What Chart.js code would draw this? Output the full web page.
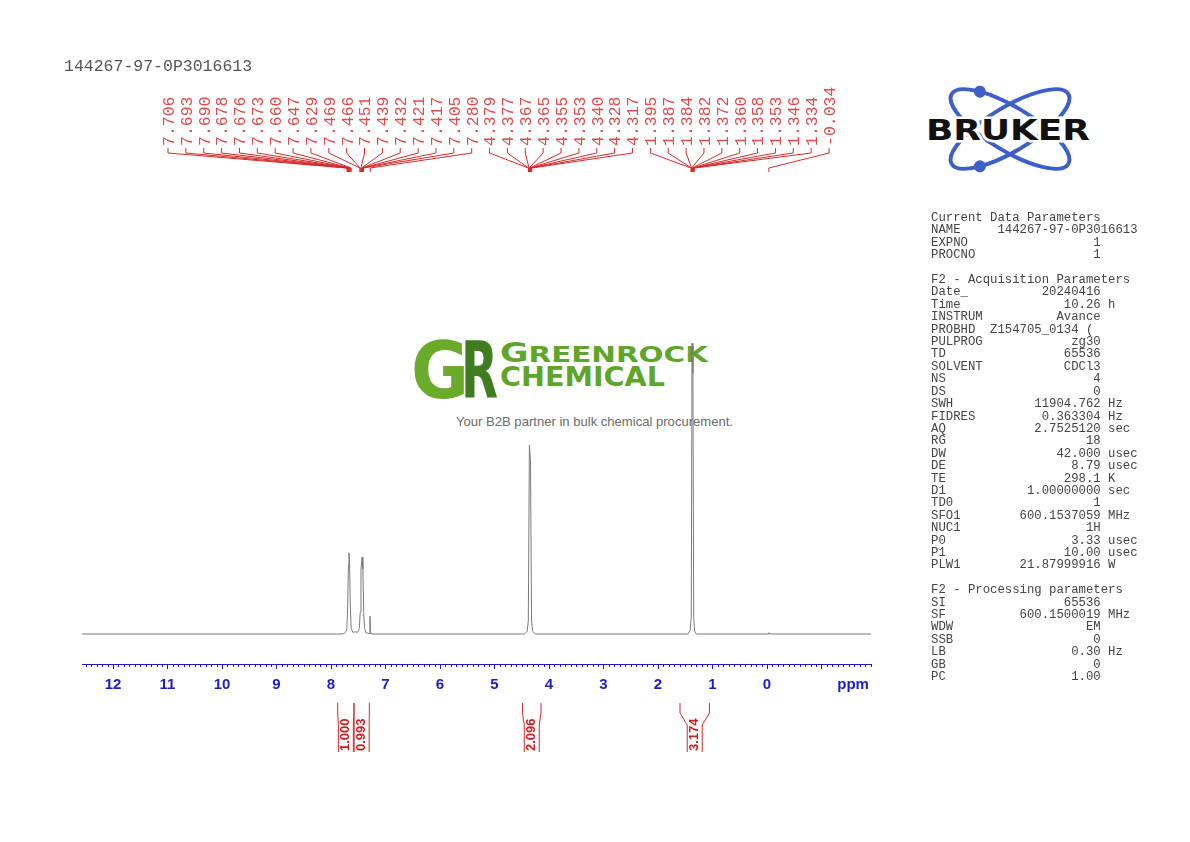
<!DOCTYPE html>
<html>
<head>
<meta charset="utf-8">
<script src="https://cdn.jsdelivr.net/npm/chart.js@4.4.1/dist/chart.umd.min.js"></script>
<style>
  html, body { margin: 0; padding: 0; background: #fff; }
  #page { position: relative; width: 1190px; height: 842px; overflow: hidden; }
  #deco { position: absolute; left: 0; top: 0; z-index: 0; }
  #grafico { position: absolute; left: 0; top: 0; z-index: 1; }
  #titulo { position: absolute; left: 64px; top: 57px; font: 16.5px "Liberation Mono", monospace; color: #555; z-index: 2; }
  #params { position: absolute; left: 931px; top: 212px; margin: 0; font: 12.3px/12.4px "Liberation Mono", monospace; color: #444; z-index: 2; }
</style>
</head>
<body>
<div id="page">
  <svg id="deco" width="1190" height="842" xmlns="http://www.w3.org/2000/svg">
    <!-- marca de agua -->
    <text x="411" y="398" font-family="DejaVu Sans" font-weight="bold" font-size="78" fill="#6aab2c" textLength="58" lengthAdjust="spacingAndGlyphs">G</text>
    <text x="461" y="398" font-family="DejaVu Sans" font-weight="bold" font-size="78" fill="#3f7d1f" textLength="37" lengthAdjust="spacingAndGlyphs">R</text>
    <text x="500" y="362" font-family="DejaVu Sans" font-weight="bold" fill="#5ea52a" textLength="208" lengthAdjust="spacingAndGlyphs"><tspan font-size="26">G</tspan><tspan font-size="22">REENROCK</tspan></text>
    <text x="500" y="386" font-family="DejaVu Sans" font-weight="bold" font-size="26" fill="#5ea52a" textLength="165" lengthAdjust="spacingAndGlyphs">CHEMICAL</text>
    <text x="456" y="426" font-family="Liberation Sans" font-size="13" fill="#6a6a6a" textLength="277" lengthAdjust="spacingAndGlyphs">Your B2B partner in bulk chemical procurement.</text>
    <!-- logo Bruker -->
    <g transform="translate(1010,129)">
      <g transform="rotate(31)">
        <ellipse cx="0" cy="0" rx="68" ry="22" fill="none" stroke="#3f5fc8" stroke-width="4"/>
        <circle cx="-45" cy="-16.5" r="6" fill="#3f5fc8"/>
      </g>
      <g transform="rotate(-31)">
        <ellipse cx="0" cy="0" rx="68" ry="22" fill="none" stroke="#3f5fc8" stroke-width="4"/>
        <circle cx="-45" cy="16.5" r="6" fill="#3f5fc8"/>
      </g>
    </g>
    <text x="926" y="140" font-family="DejaVu Sans" font-weight="bold" font-size="29" fill="#111" stroke="#fff" stroke-width="5" paint-order="stroke" textLength="164" lengthAdjust="spacingAndGlyphs">BRUKER</text>
  </svg>
  <canvas id="grafico" width="1190" height="842"></canvas>
  <div id="titulo">144267-97-0P3016613</div>
  <pre id="params"></pre>
</div>
<script>
// espectro (ppm, intensidad)
var specPpm = [12.57, 7.80, 7.76, 7.73, 7.71, 7.695, 7.68, 7.67, 7.66, 7.645, 7.63, 7.60, 7.55,
               7.51, 7.48, 7.465, 7.45, 7.43, 7.415, 7.40, 7.385, 7.36, 7.30, 7.285, 7.275, 7.20,
               4.45, 4.40, 4.38, 4.36, 4.34, 4.32, 4.30, 4.25,
               1.45, 1.41, 1.39, 1.375, 1.36, 1.345, 1.33, 1.30,
               -0.02, -0.034, -0.05, -1.91];
var specInt = [0, 0, 0.1, 0.4, 1.3, 6, 16, 18.7, 17, 6, 1.3, 0.4, 0.5,
               0.4, 1.3, 5, 15, 17.7, 15, 5, 1.3, 0.3, 0.1, 4.1, 0.1, 0,
               0, 0.6, 3, 43.5, 40, 3, 0.6, 0,
               0, 0.8, 4, 67, 60, 4, 0.8, 0,
               0, 0.3, 0, 0];

// etiquetas de picos
var peakLabels = ['7.706', '7.693', '7.690', '7.678', '7.676', '7.673', '7.660', '7.647', '7.629',
                  '7.469', '7.466', '7.451', '7.439', '7.432', '7.421', '7.417', '7.405', '7.280',
                  '4.379', '4.377', '4.367', '4.365', '4.355', '4.353', '4.340', '4.328', '4.317',
                  '1.395', '1.387', '1.384', '1.382', '1.372', '1.360', '1.358', '1.353', '1.346', '1.334',
                  '-0.034'];

// integrales
var integralFrom = [7.877, 7.578, 4.486, 1.596];
var integralTo = [7.578, 7.297, 4.147, 1.057];
var integralValues = ['1.000', '0.993', '2.096', '3.174'];

// eje x
var xTickValues = [12, 11, 10, 9, 8, 7, 6, 5, 4, 3, 2, 1, 0, -1, -1.58];
var xTickLabels = ['12', '11', '10', '9', '8', '7', '6', '5', '4', '3', '2', '1', '0', '', 'ppm'];

var params = [
  ['Current Data Parameters'],
  ['NAME', '144267-97-0P3016613'],
  ['EXPNO', '1'],
  ['PROCNO', '1'],
  [''],
  ['F2 - Acquisition Parameters'],
  ['Date_', '20240416'],
  ['Time', '10.26', 'h'],
  ['INSTRUM', 'Avance'],
  ['PROBHD', 'Z154705_0134 ('],
  ['PULPROG', 'zg30'],
  ['TD', '65536'],
  ['SOLVENT', 'CDCl3'],
  ['NS', '4'],
  ['DS', '0'],
  ['SWH', '11904.762', 'Hz'],
  ['FIDRES', '0.363304', 'Hz'],
  ['AQ', '2.7525120', 'sec'],
  ['RG', '18'],
  ['DW', '42.000', 'usec'],
  ['DE', '8.79', 'usec'],
  ['TE', '298.1', 'K'],
  ['D1', '1.00000000', 'sec'],
  ['TD0', '1'],
  ['SFO1', '600.1537059', 'MHz'],
  ['NUC1', '1H'],
  ['P0', '3.33', 'usec'],
  ['P1', '10.00', 'usec'],
  ['PLW1', '21.87999916', 'W'],
  [''],
  ['F2 - Processing parameters'],
  ['SI', '65536'],
  ['SF', '600.1500019', 'MHz'],
  ['WDW', 'EM'],
  ['SSB', '0'],
  ['LB', '0.30', 'Hz'],
  ['GB', '0'],
  ['PC', '1.00']
];

var lineas = params.map(function (p) {
  if (p.length === 1) return p[0];
  var s;
  if (p[1].length > 14) s = p[0].padEnd(9) + p[1];
  else if (p[0] === 'PROBHD') s = p[0].padEnd(8) + p[1];
  else s = p[0] + p[1].padStart(23 - p[0].length);
  if (p[2]) s += ' ' + p[2];
  return s;
});
document.getElementById('params').textContent = lineas.join('\n');

var azul = '#1c1cc8';
var rojo = '#d42a2a';

var datos = specPpm.map(function (v, i) { return { x: v, y: specInt[i] }; });

// ticks menores cada 0.1 ppm
var menores = {
  id: 'menores',
  afterDraw: function (chart) {
    var ctx = chart.ctx, xs = chart.scales.x, y0 = chart.chartArea.bottom;
    ctx.save();
    ctx.strokeStyle = azul;
    ctx.lineWidth = 1;
    ctx.beginPath();
    for (var k = Math.ceil(xs.min * 10); k <= Math.floor(xs.max * 10); k++) {
      if (k % 10 === 0) continue;
      var px = Math.round(xs.getPixelForValue(k / 10)) + 0.5;
      ctx.moveTo(px, y0);
      ctx.lineTo(px, y0 + 3);
    }
    ctx.stroke();
    ctx.restore();
  }
};

// etiquetas de picos arriba
var etiquetas = {
  id: 'etiquetas',
  afterDraw: function (chart) {
    var ctx = chart.ctx, xs = chart.scales.x, a = chart.chartArea;
    var x0 = a.left + 86, x1 = a.right - 42;
    var paso = (x1 - x0) / (peakLabels.length - 1);
    ctx.save();
    ctx.strokeStyle = rojo;
    ctx.lineWidth = 1;
    ctx.fillStyle = '#e04a4a';
    ctx.font = '16.5px "Liberation Mono", monospace';
    peakLabels.forEach(function (lab, i) {
      var xl = x0 + i * paso;
      var xp = xs.getPixelForValue(parseFloat(lab));
      ctx.beginPath();
      ctx.moveTo(xl, 148);
      ctx.lineTo(xl, 153);
      ctx.lineTo(xp, 168);
      ctx.lineTo(xp, 172);
      ctx.stroke();
      ctx.save();
      ctx.translate(xl + 1.5, 146);
      ctx.rotate(-Math.PI / 2);
      ctx.textAlign = 'left';
      ctx.textBaseline = 'middle';
      ctx.fillText(lab, 0, 0);
      ctx.restore();
    });
    ctx.restore();
  }
};

// integrales debajo del eje
var integrales = {
  id: 'integrales',
  afterDraw: function (chart) {
    var ctx = chart.ctx, xs = chart.scales.x;
    ctx.save();
    ctx.strokeStyle = rojo;
    ctx.fillStyle = '#cc2020';
    ctx.lineWidth = 1;
    ctx.font = 'bold 13px "Liberation Sans", Arial, sans-serif';
    integralValues.forEach(function (val, i) {
      var xa = xs.getPixelForValue(integralFrom[i]);
      var xb = xs.getPixelForValue(integralTo[i]);
      var mid = (xa + xb) / 2;
      var w = Math.min(xb - xa, 15);
      var ia = mid - w / 2, ib = mid + w / 2;
      ctx.beginPath();
      ctx.moveTo(xa, 703); ctx.lineTo(xa, 713); ctx.lineTo(ia, 725); ctx.lineTo(ia, 752);
      ctx.moveTo(xb, 703); ctx.lineTo(xb, 713); ctx.lineTo(ib, 725); ctx.lineTo(ib, 752);
      ctx.stroke();
      ctx.save();
      ctx.translate(mid, 751);
      ctx.rotate(-Math.PI / 2);
      ctx.textAlign = 'left';
      ctx.textBaseline = 'middle';
      ctx.fillText(val, 0, 0);
      ctx.restore();
    });
    ctx.restore();
  }
};

var ctx = document.getElementById('grafico').getContext('2d');
window.myChart = new Chart(ctx, {
  type: 'scatter',
  data: {
    datasets: [{
      data: datos,
      showLine: true,
      borderColor: '#7a7a7a',
      borderWidth: 1,
      pointRadius: 0,
      tension: 0
    }]
  },
  options: {
    responsive: false,
    animation: false,
    layout: { padding: { left: 82, right: 319, top: 200, bottom: 148 } },
    plugins: { legend: { display: false }, tooltip: { enabled: false } },
    scales: {
      x: {
        type: 'linear',
        reverse: true,
        min: -1.908,
        max: 12.569,
        afterBuildTicks: function (s) {
          s.ticks = xTickValues.map(function (v) { return { value: v }; });
        },
        afterFit: function (s) { s.height = 30; },
        ticks: {
          autoSkip: false,
          maxRotation: 0,
          padding: 7,
          color: azul,
          font: { family: '"Liberation Sans", Arial, sans-serif', size: 15, weight: 'bold' },
          callback: function (v) {
            var i = xTickValues.indexOf(v);
            return i >= 0 ? xTickLabels[i] : '';
          }
        },
        grid: {
          drawOnChartArea: false,
          tickLength: 5,
          tickColor: function (c) { return c.tick && xTickLabels[xTickValues.indexOf(c.tick.value)] === 'ppm' ? 'rgba(0,0,0,0)' : azul; }
        },
        border: { color: azul, width: 1 }
      },
      y: {
        display: false,
        min: -6.91,
        max: 100
      }
    }
  },
  plugins: [menores, etiquetas, integrales]
});
</script>
</body>
</html>
